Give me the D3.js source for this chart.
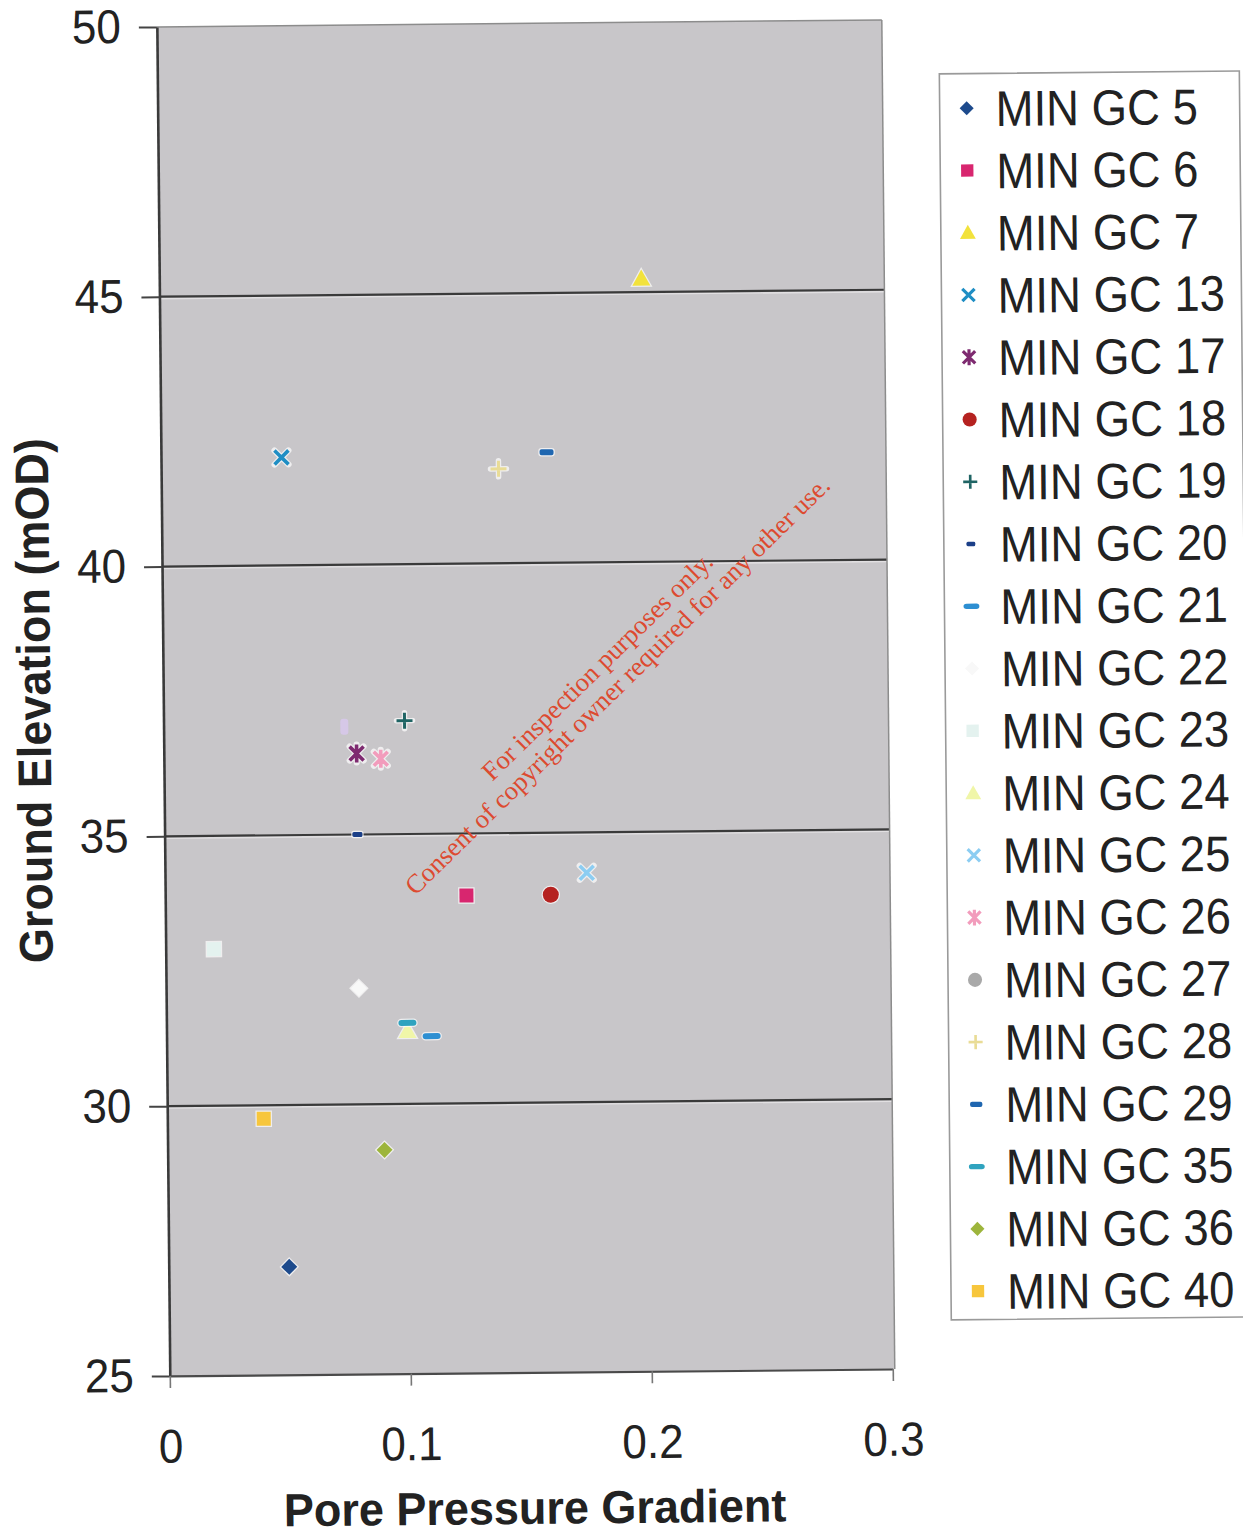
<!DOCTYPE html>
<html>
<head>
<meta charset="utf-8">
<script src="https://cdn.jsdelivr.net/npm/d3@7"></script>
<style>
  body { margin: 0; background: #ffffff; }
  svg { display: block; }
</style>
</head>
<body>
<svg id="chart" width="1243" height="1539"></svg>
<script>
// Series, in legend order
const series = ["MIN GC 5", "MIN GC 6", "MIN GC 7", "MIN GC 13", "MIN GC 17", "MIN GC 18",
  "MIN GC 19", "MIN GC 20", "MIN GC 21", "MIN GC 22", "MIN GC 23", "MIN GC 24", "MIN GC 25",
  "MIN GC 26", "MIN GC 27", "MIN GC 28", "MIN GC 29", "MIN GC 35", "MIN GC 36", "MIN GC 40"];
// Pore pressure gradient per series (null = no reading)
const gradient = [0.05, 0.125, 0.20, 0.05, 0.08, 0.16, 0.10, 0.08, 0.11, 0.08, 0.02, 0.10,
  0.175, 0.09, null, 0.14, 0.16, 0.10, 0.09, 0.04];
// Ground elevation (mOD) per series
const elevation = [27.0, 33.85, 45.25, 42.0, 36.5, 33.85, 37.1, 35.0, 31.25, 32.15, 32.9, 31.35,
  34.25, 36.4, null, 41.75, 42.05, 31.5, 29.15, 29.75];
// A faint reading with no legend entry
const extraGradient = [0.075];
const extraElevation = [37.0];

const markerShapes = ["diamond", "square", "triangle", "cross", "star", "circle", "plus", "dashS",
  "dashL", "diamond", "square", "triangle", "cross", "star", "circle", "plus", "dashM", "dashL",
  "diamond", "square"];
const markerColors = ["#1d4a8c", "#d8266f", "#f2e23c", "#1f8ec4", "#7e2a70", "#b52220", "#1f6464",
  "#1b3f88", "#2d8fd2", "#f8f8f8", "#e4f2ef", "#f0f6a8", "#8ccdf2", "#f29cbc", "#a9a9a9",
  "#e9dc96", "#1f66b0", "#2fa3bf", "#9db53c", "#f7c63c"];

const xTicks = [0, 0.1, 0.2, 0.3];
const yTicks = [25, 30, 35, 40, 45, 50];
const gridValues = [30, 35, 40, 45];

const font = "'Liberation Sans', Arial, sans-serif";
const svg = d3.select("#chart");

// whole figure sits slightly skewed on the page
const root = svg.append("g").attr("transform", "rotate(-0.55, 620, 770)");

const plot = { left: 164, right: 887, top: 22.5, bottom: 1371.6 };
const x = d3.scaleLinear().domain([0, 0.3]).range([plot.left, plot.right]);
const y = d3.scaleLinear().domain([25, 50]).range([plot.bottom, plot.top]);

// plot background
root.append("rect")
  .attr("x", plot.left).attr("y", plot.top)
  .attr("width", plot.right - plot.left + 2).attr("height", plot.bottom - plot.top)
  .attr("fill", "#c8c6c9");

// horizontal gridlines, with the faint light edge beneath each
root.append("g").selectAll("line").data(gridValues).join("line")
  .attr("x1", plot.left).attr("x2", plot.right + 2)
  .attr("y1", d => y(d) + 2).attr("y2", d => y(d) + 2)
  .attr("stroke", "#e2e0e2").attr("stroke-width", 1.4);
root.append("g").selectAll("line").data(gridValues).join("line")
  .attr("x1", plot.left).attr("x2", plot.right + 2)
  .attr("y1", d => y(d)).attr("y2", d => y(d))
  .attr("stroke", "#3a3a3a").attr("stroke-width", 2.2);

// top and right borders
root.append("line").attr("x1", plot.left).attr("x2", plot.right + 2)
  .attr("y1", plot.top).attr("y2", plot.top).attr("stroke", "#8c8c8c").attr("stroke-width", 1.5);
root.append("line").attr("x1", plot.right + 2).attr("x2", plot.right + 2)
  .attr("y1", plot.top).attr("y2", plot.bottom).attr("stroke", "#8c8c8c").attr("stroke-width", 1.5);

// axes
const yAxis = root.append("g").attr("transform", `translate(${plot.left},0)`)
  .call(d3.axisLeft(y).tickValues(yTicks).tickSizeInner(18).tickSizeOuter(0).tickPadding(18));
const xAxis = root.append("g").attr("transform", `translate(0,${plot.bottom})`)
  .call(d3.axisBottom(x).tickValues(xTicks).tickSizeInner(12).tickSizeOuter(0).tickPadding(37)
    .tickFormat(d => d === 0 ? "0" : d3.format(".1f")(d)));

yAxis.select(".domain").attr("stroke", "#3a3a3a").attr("stroke-width", 2.6);
xAxis.select(".domain").attr("stroke", "#4a4a4a").attr("stroke-width", 2.2);
yAxis.selectAll(".tick line").attr("stroke", "#444").attr("stroke-width", 2);
xAxis.selectAll(".tick line").attr("stroke", "#777").attr("stroke-width", 1.6);
[yAxis, xAxis].forEach(a => a.selectAll(".tick text")
  .attr("font-family", font).attr("font-size", 44).attr("fill", "#222")
  .attr("transform", "scale(1,1.08)"));

// axis titles
root.append("text")
  .attr("transform", "translate(34,695) rotate(-90) scale(1.0,1.05)")
  .attr("text-anchor", "middle").attr("dy", "0.36em")
  .attr("font-family", font).attr("font-weight", "bold").attr("font-size", 45).attr("fill", "#222")
  .text("Ground Elevation (mOD)");
root.append("text")
  .attr("transform", "translate(528,1523) scale(1,1.03)")
  .attr("text-anchor", "middle")
  .attr("font-family", font).attr("font-weight", "bold").attr("font-size", 45).attr("fill", "#222")
  .text("Pore Pressure Gradient");

// marker drawing
function drawMarker(g, shape, color, k) {
  const halo = "rgba(255,255,255,0.7)";
  const strokeShape = (d, w) => {
    g.append("path").attr("d", d).attr("stroke", halo).attr("stroke-width", w + 2.5)
      .attr("stroke-linecap", "round").attr("fill", "none");
    g.append("path").attr("d", d).attr("stroke", color).attr("stroke-width", w)
      .attr("stroke-linecap", "butt").attr("fill", "none");
  };
  const filled = (sel) => sel.attr("fill", color).attr("stroke", halo)
    .attr("stroke-width", 2.5 * k).attr("paint-order", "stroke");
  const r = 8 * k;
  switch (shape) {
    case "diamond":
      filled(g.append("path").attr("d", `M0,${-r}L${r},0L0,${r}L${-r},0Z`)); break;
    case "square":
      filled(g.append("rect").attr("x", -7 * k).attr("y", -7 * k).attr("width", 14 * k).attr("height", 14 * k)); break;
    case "triangle":
      filled(g.append("path").attr("d", `M0,${-9 * k}L${9 * k},${7 * k}L${-9 * k},${7 * k}Z`)); break;
    case "circle":
      filled(g.append("circle").attr("r", r)); break;
    case "cross":
      strokeShape(`M${-7 * k},${-7 * k}L${7 * k},${7 * k}M${7 * k},${-7 * k}L${-7 * k},${7 * k}`, 3.6 * k); break;
    case "plus":
      strokeShape(`M${-8 * k},0L${8 * k},0M0,${-8 * k}L0,${8 * k}`, 3 * k); break;
    case "star":
      strokeShape(`M${-7 * k},${-7 * k}L${7 * k},${7 * k}M${7 * k},${-7 * k}L${-7 * k},${7 * k}M0,${-9 * k}L0,${9 * k}`, 3.6 * k); break;
    case "dashS":
      filled(g.append("rect").attr("x", -5 * k).attr("y", -2.5 * k).attr("width", 10 * k).attr("height", 5 * k).attr("rx", 1.5)); break;
    case "dashM":
      filled(g.append("rect").attr("x", -7 * k).attr("y", -3 * k).attr("width", 14 * k).attr("height", 6 * k).attr("rx", 2)); break;
    case "dashL":
      filled(g.append("rect").attr("x", -9 * k).attr("y", -3 * k).attr("width", 18 * k).attr("height", 6 * k).attr("rx", 3)); break;
  }
}

// data points
const points = series.map((s, i) => ({ s, i, gx: gradient[i], ey: elevation[i] }))
  .filter(d => d.gx !== null);
const pts = root.append("g");
pts.selectAll("g.extra").data(extraGradient.map((g, i) => ({ gx: g, ey: extraElevation[i] })))
  .join("g").attr("class", "extra")
  .attr("transform", d => `translate(${x(d.gx)},${y(d.ey)})`)
  .each(function () {
    d3.select(this).append("rect").attr("x", -4).attr("y", -8).attr("width", 8).attr("height", 16)
      .attr("rx", 3).attr("fill", "#d8c8ec").attr("opacity", 0.85);
  });
pts.selectAll("g.pt").data(points).join("g").attr("class", "pt")
  .attr("transform", d => `translate(${x(d.gx)},${y(d.ey)})`)
  .each(function (d) { drawMarker(d3.select(this), markerShapes[d.i], markerColors[d.i], 1); });

// legend
const legend = { left: 946, top: 77, right: 1246, bottom: 1323, markX: 973, textX: 1002, firstY: 111.6, step: 62.26 };
root.append("rect")
  .attr("x", legend.left).attr("y", legend.top)
  .attr("width", legend.right - legend.left).attr("height", legend.bottom - legend.top)
  .attr("fill", "#ffffff").attr("stroke", "#9a9a9a").attr("stroke-width", 1.6);
const items = root.append("g").selectAll("g").data(series).join("g")
  .attr("transform", (d, i) => `translate(0,${legend.firstY + i * legend.step})`);
items.each(function (d, i) {
  const m = d3.select(this).append("g").attr("transform", `translate(${legend.markX},0)`);
  drawMarker(m, markerShapes[i], markerColors[i], 0.88);
});
items.append("text")
  .attr("transform", `translate(${legend.textX},0) scale(1,1.1)`)
  .attr("dy", "0.36em")
  .attr("font-family", font).attr("font-size", 45.5).attr("fill", "#222")
  .text(d => d);

// stamp across the plot
const stamp = svg.append("g").attr("font-family", "'Liberation Serif', 'Times New Roman', serif")
  .attr("font-size", 26.5).attr("fill", "#dd4a30").attr("text-anchor", "middle");
stamp.append("text").attr("transform", "translate(597,666) rotate(-44.5)").attr("dy", "0.35em")
  .text("For inspection purposes only.");
stamp.append("text").attr("transform", "translate(617,685) rotate(-44.5)").attr("dy", "0.35em")
  .text("Consent of copyright owner required for any other use.");
</script>
</body>
</html>
